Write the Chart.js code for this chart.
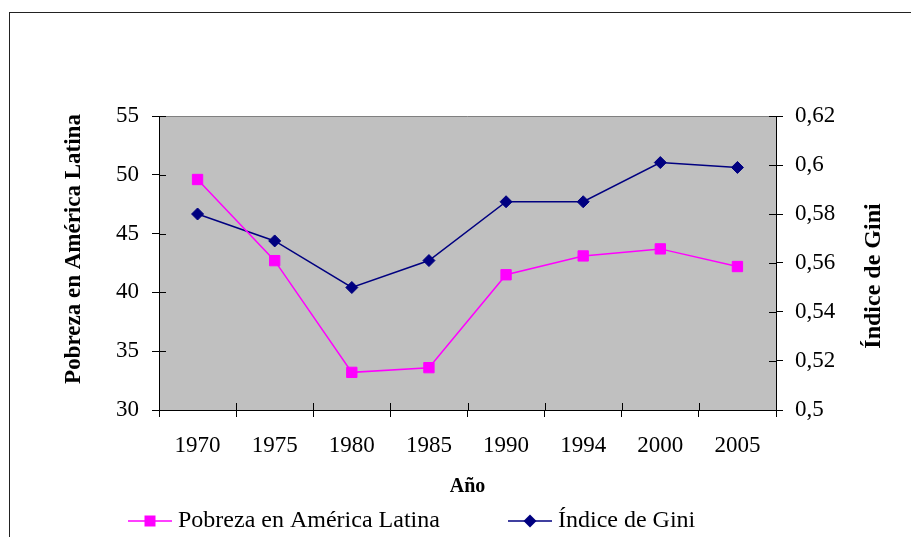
<!DOCTYPE html>
<html lang="es">
<head>
<meta charset="UTF-8">
<title>Pobreza e Índice de Gini en América Latina</title>
<script src="https://cdn.jsdelivr.net/npm/chart.js"></script>
<style>
  html, body { margin: 0; padding: 0; background: #fff; }
</style>
</head>
<body>
<canvas id="chart" width="911" height="537"></canvas>
<script>
// data
const years = ['1970', '1975', '1980', '1985', '1990', '1994', '2000', '2005'];
const pobreza = [49.6, 42.7, 33.2, 33.6, 41.5, 43.1, 43.7, 42.2];
const gini = [0.580, 0.569, 0.550, 0.561, 0.585, 0.585, 0.601, 0.599];
const leftRange = [30, 55, 5];
const rightRange = [0.5, 0.62, 0.02];
const seriesNames = ['Pobreza en América Latina', 'Índice de Gini'];
const axisTitles = ['Año', 'Pobreza en América Latina', 'Índice de Gini'];

const SERIF = "'Liberation Serif', 'Times New Roman', serif";
const PINK = '#FF00FF';
const NAVY = '#000080';

Chart.defaults.font.family = SERIF;
Chart.defaults.color = '#000';

// draws a title rotated to read bottom to top, like the spreadsheet does
function sideTitle(ctx, text, x, y, size) {
    ctx.save();
    ctx.fillStyle = '#000';
    ctx.font = `bold ${size}px ${SERIF}`;
    ctx.textAlign = 'center';
    ctx.textBaseline = 'middle';
    ctx.translate(x, y);
    ctx.rotate(-Math.PI / 2);
    ctx.fillText(text, 0, 0);
    ctx.restore();
}

// frame, grey plot area, inner half of the cross ticks, side titles, legend
const decor = {
    id: 'decor',
    beforeDraw(chart) {
        const {ctx, chartArea: a} = chart;
        ctx.save();
        ctx.fillStyle = '#fff';
        ctx.fillRect(0, 0, chart.width, chart.height);
        ctx.strokeStyle = '#222';
        ctx.lineWidth = 1;
        ctx.strokeRect(9.5, 12.5, 1000, 1000);
        ctx.fillStyle = '#C0C0C0';
        ctx.fillRect(a.left, a.top, a.right - a.left, a.bottom - a.top);
        ctx.strokeStyle = '#808080';
        ctx.beginPath();
        ctx.moveTo(a.left, a.top + 0.5);
        ctx.lineTo(a.right, a.top + 0.5);
        ctx.stroke();
        ctx.restore();
    },
    afterDraw(chart) {
        const {ctx, chartArea: a, scales} = chart;
        ctx.save();
        ctx.strokeStyle = '#000';
        ctx.lineWidth = 1;
        ctx.beginPath();
        scales.y.ticks.forEach((t, i) => {
            const py = Math.round(scales.y.getPixelForTick(i)) + 0.5;
            ctx.moveTo(a.left, py); ctx.lineTo(a.left + 7, py);
        });
        scales.y1.ticks.forEach((t, i) => {
            const py = Math.round(scales.y1.getPixelForTick(i)) + 0.5;
            ctx.moveTo(a.right - 7, py); ctx.lineTo(a.right, py);
        });
        const n = years.length;
        for (let i = 0; i <= n; i++) {
            const px = Math.round(a.left + i * (a.right - a.left) / n) + 0.5;
            ctx.moveTo(px, a.bottom - 7); ctx.lineTo(px, a.bottom);
        }
        ctx.stroke();
        ctx.restore();

        sideTitle(ctx, axisTitles[1], 74, 249, 23);
        sideTitle(ctx, axisTitles[2], 874, 276, 24);

        // legend: short line with the marker in the middle, then the name
        const legendX = [128, 508];
        const ly = 521;
        ctx.save();
        chart.data.datasets.forEach((ds, i) => {
            const x0 = legendX[i];
            ctx.strokeStyle = ds.borderColor;
            ctx.lineWidth = 1.5;
            ctx.beginPath();
            ctx.moveTo(x0, ly); ctx.lineTo(x0 + 44, ly);
            ctx.stroke();
            ctx.fillStyle = ds.borderColor;
            const cx = x0 + 22;
            ctx.beginPath();
            if (ds.pointStyle === 'rect') {
                ctx.rect(cx - 5.5, ly - 5.5, 11, 11);
            } else {
                ctx.moveTo(cx - 6.5, ly); ctx.lineTo(cx, ly - 6.5);
                ctx.lineTo(cx + 6.5, ly); ctx.lineTo(cx, ly + 6.5);
                ctx.closePath();
            }
            ctx.fill();
            ctx.fillStyle = '#000';
            ctx.font = `24px ${SERIF}`;
            ctx.textAlign = 'left';
            ctx.textBaseline = 'middle';
            ctx.fillText(ds.label, x0 + 50, ly);
        });
        ctx.restore();
    }
};

new Chart(document.getElementById('chart'), {
    type: 'line',
    data: {
        labels: years,
        datasets: [
            {
                label: seriesNames[0],
                data: pobreza,
                yAxisID: 'y',
                borderColor: PINK,
                backgroundColor: PINK,
                borderWidth: 1.5,
                pointStyle: 'rect',
                pointRadius: 7.3,
                pointBorderWidth: 1,
                pointBackgroundColor: PINK,
                pointBorderColor: PINK,
                tension: 0
            },
            {
                label: seriesNames[1],
                data: gini,
                yAxisID: 'y1',
                borderColor: NAVY,
                backgroundColor: NAVY,
                borderWidth: 1.5,
                pointStyle: 'rectRot',
                pointRadius: 6,
                pointBorderWidth: 1,
                pointBackgroundColor: NAVY,
                pointBorderColor: NAVY,
                tension: 0
            }
        ]
    },
    options: {
        responsive: false,
        animation: false,
        devicePixelRatio: 1,
        layout: { padding: { top: 116, left: 0, right: 0, bottom: 0 } },
        plugins: {
            legend: { display: false },
            tooltip: { enabled: false }
        },
        scales: {
            x: {
                offset: true,
                grid: { offset: true, drawOnChartArea: false, tickLength: 7, color: '#000', lineWidth: 1 },
                border: { display: true, color: '#000', width: 1 },
                ticks: { font: { size: 23 }, color: '#000', padding: 15, maxRotation: 0 },
                title: {
                    display: true,
                    text: axisTitles[0],
                    font: { size: 20, weight: 'bold' },
                    color: '#000',
                    padding: { top: 0, bottom: 38 }
                },
                afterFit: s => { s.height = 127; }
            },
            y: {
                position: 'left',
                min: leftRange[0],
                max: leftRange[1],
                grid: { drawOnChartArea: false, tickLength: 7, color: '#000' },
                border: { display: true, color: '#000', width: 1 },
                ticks: { stepSize: leftRange[2], font: { size: 23 }, color: '#000', padding: 13 },
                afterFit: s => { s.width = 159; }
            },
            y1: {
                position: 'right',
                min: rightRange[0],
                max: rightRange[1],
                grid: { drawOnChartArea: false, tickLength: 7, color: '#000' },
                border: { display: true, color: '#000', width: 1 },
                ticks: {
                    stepSize: rightRange[2],
                    font: { size: 23 },
                    color: '#000',
                    padding: 12,
                    callback: v => String(Math.round(v * 100) / 100).replace('.', ',')
                },
                afterFit: s => { s.width = 135; }
            }
        }
    },
    plugins: [decor]
});
</script>
</body>
</html>
